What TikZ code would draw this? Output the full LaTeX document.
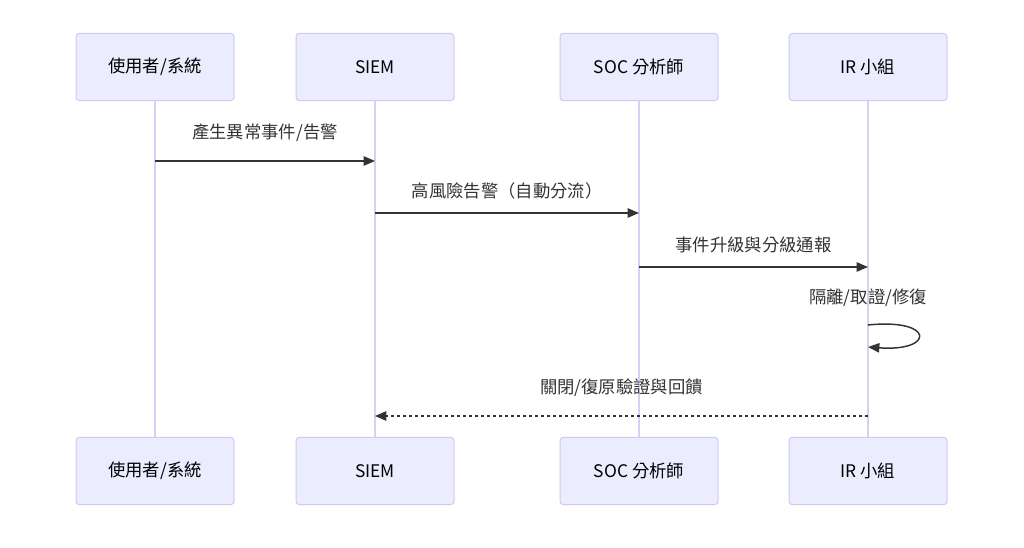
\documentclass[tikz,border=0pt]{standalone}
\usepackage{fontspec}
\setmainfont{Noto Sans CJK TC}
\usetikzlibrary{arrows.meta}
\definecolor{actfill}{HTML}{ECECFF}
\definecolor{actline}{HTML}{D2C8F2}
\definecolor{lifeline}{HTML}{D9CFF6}
\definecolor{ink}{HTML}{333333}

\begin{document}
\begin{tikzpicture}[x=0.75pt,y=-0.75pt,
  actor/.style={draw=actline, fill=actfill, line width=0.75pt, rounded corners=2.5pt,
    minimum width=118.5pt, minimum height=50.5pt, font=\fontsize{13}{15}\selectfont, text=black},
  life/.style={draw=lifeline, line width=1.1pt},
  msg/.style={draw=ink, line width=1.1pt, -{Triangle[length=8.5pt,width=7pt]}},
  reply/.style={msg, dash pattern=on 2.25pt off 2.25pt},
  lbl/.style={font=\fontsize{13}{15}\selectfont, text=ink, inner sep=0pt}]
\useasboundingbox (0,0) rectangle (1024,548);
%%%%%actors and lifelines
\def\yt{67}
\def\yb{471}
\foreach \n/\x/\t in {usr/155/使用者{/}系統, siem/375/SIEM, soc/639/SOC 分析師, ir/868/IR 小組}
{
 \node[actor] (\n top) at (\x,\yt) {\t};
 \node[actor] (\n bot) at (\x,\yb) {\t};
 \draw[life] (\n top) -- (\n bot);
}
%%%%%message levels
\coordinate (y1) at (0,161);
\coordinate (y2) at (0,213);
\coordinate (y3) at (0,267);
\coordinate (y4) at (0,325);
\coordinate (y5) at (0,347);
\coordinate (y6) at (0,416);
\coordinate (loopA) at (935,318);
\coordinate (loopB) at (935,352);
%%%%%messages
\draw[msg] (usrtop |- y1) -- node[lbl, yshift=21pt] (l1) {產生異常事件/告警} (siemtop |- y1);
\draw[msg] (siemtop |- y2) -- node[lbl, yshift=16.5pt] (l2) {高風險告警（自動分流）} (soctop |- y2);
\draw[msg] (soctop |- y3) -- node[lbl, yshift=16.5pt] (l3) {事件升級與分級通報} (irtop |- y3);
\node[lbl] (l4) at (irtop |- 0,298) {隔離/取證/修復};
\draw[msg] (irtop |- y4) .. controls (loopA) and (loopB) .. (irtop |- y5);
\draw[reply] (irtop |- y6) -- node[lbl, yshift=21pt] (l5) {關閉/復原驗證與回饋} (siemtop |- y6);
\end{tikzpicture}
\end{document}
